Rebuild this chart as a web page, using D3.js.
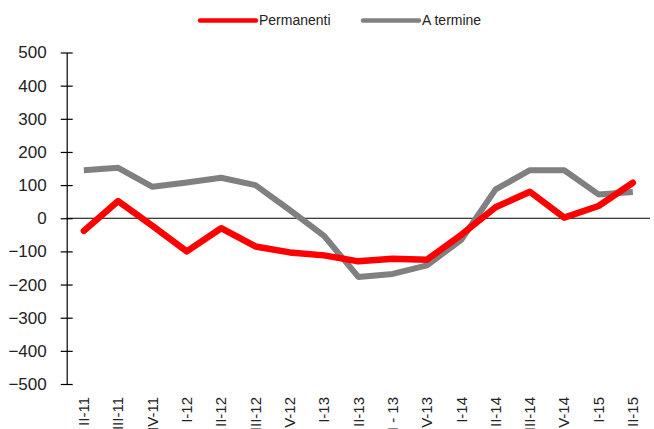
<!DOCTYPE html>
<html>
<head>
<meta charset="UTF-8">
<script src="https://cdn.jsdelivr.net/npm/d3@7"></script>
<style>
body{
    margin:0;
    background-color:#fff;
    font-family:"Liberation Sans", Arial, sans-serif;
}
</style>
</head>
<body>
<script>

var quarters = ["II-11","III-11","IV-11","I-12","II-12","III-12","IV-12","I-13","II-13","III - 13","IV-13","I-14","II-14","III-14","IV-14","I-15","II-15"];
var permanenti = [-38,52,-23,-100,-30,-85,-103,-112,-130,-122,-125,-50,33,80,2,37,107];
var aTermine = [145,152,95,108,122,100,25,-53,-177,-168,-142,-65,87,145,145,72,79];
var yTicks = [500,400,300,200,100,0,-100,-200,-300,-400,-500];
var seriesNames = ["Permanenti","A termine"];
var colors = ["#ff0000","#808080"];

var width = 654,
    height = 429;

var svg = d3.select("body").append("svg")
    .attr("width",width)
    .attr("height",height);

var x = d3.scalePoint().domain(quarters).range([66.7,650]).padding(0.5);
var y = d3.scaleLinear().domain([-500,500]).range([384,52.5]);

// y axis with ticks crossing the line
var gY = svg.append("g")
    .attr("transform","translate(66.7,0)")
    .call(d3.axisLeft(y).tickValues(yTicks).tickSize(6).tickSizeOuter(0).tickPadding(14).tickFormat(d3.format("d")));
gY.select(".domain").attr("stroke","#000").attr("stroke-width",1.2);
gY.selectAll(".tick line").attr("x1",6).attr("x2",-6).attr("stroke","#000").attr("stroke-width",1.2);
gY.selectAll(".tick text")
    .attr("font-family","'Liberation Sans', Arial, sans-serif")
    .attr("font-size",17)
    .attr("fill","#222");

// zero line
svg.append("line")
    .attr("x1",66.7).attr("x2",650)
    .attr("y1",y(0)).attr("y2",y(0))
    .attr("stroke","#000").attr("stroke-width",1.2);

// x labels, rotated (the longer ones run off the bottom, like the original)
svg.selectAll(".xlab")
    .data(quarters)
    .enter().append("text")
    .attr("class","xlab")
    .attr("transform",function(d){ return "translate(" + x(d) + ",397) rotate(-90)"; })
    .attr("dy","0.35em")
    .attr("text-anchor","end")
    .attr("font-size",15)
    .attr("fill","#222")
    .text(function(d){ return d; });

var line = d3.line()
    .x(function(d,i){ return x(quarters[i]); })
    .y(function(d){ return y(d); });

svg.append("path")
    .datum(aTermine)
    .attr("fill","none")
    .attr("stroke",colors[1])
    .attr("stroke-width",6)
    .attr("stroke-linejoin","round")
    .attr("d",line);

svg.append("path")
    .datum(permanenti)
    .attr("fill","none")
    .attr("stroke",colors[0])
    .attr("stroke-width",6.5)
    .attr("stroke-linejoin","round")
    .attr("stroke-linecap","round")
    .attr("d",line);

// legend
var legendX = [200,363];
var legend = svg.selectAll(".legend")
    .data(seriesNames)
    .enter().append("g")
    .attr("class","legend")
    .attr("transform",function(d,i){ return "translate(" + legendX[i] + ",20.5)"; });

legend.append("line")
    .attr("x1",0).attr("x2",56)
    .attr("stroke",function(d,i){ return colors[i]; })
    .attr("stroke-width",4.5)
    .attr("stroke-linecap","round");

legend.append("text")
    .attr("x",59)
    .attr("dy","0.35em")
    .attr("font-size",14)
    .attr("fill","#222")
    .text(function(d){ return d; });

</script>
</body>
</html>
